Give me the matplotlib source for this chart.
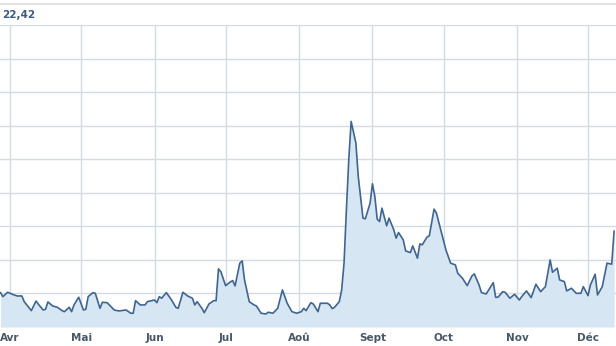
import matplotlib
matplotlib.use("Agg")
import matplotlib.pyplot as plt
import matplotlib.dates as mdates
import pandas as pd

# 데이터
dates = (
    ["2011-03-%02d" % d for d in [28, 29, 31]]
    + ["2011-04-%02d" % d for d in [2, 4, 6, 7, 10, 12, 13, 15, 16, 17, 19, 21, 23, 24, 26, 27, 28, 30]]
    + ["2011-05-%02d" % d for d in [2, 3, 4, 6, 7, 9, 10, 12, 15, 17, 20, 22, 23, 24, 26, 28, 29]]
    + ["2011-06-%02d" % d for d in [1, 2, 3, 4, 6, 8, 10, 11, 13, 15, 17, 18, 19, 21, 22, 24, 26, 27, 28, 29]]
    + ["2011-07-%02d" % d for d in [1, 3, 4, 5, 7, 8, 9, 11, 13, 14, 16, 18, 19, 21, 23, 25, 27, 29, 31]]
    + ["2011-08-%02d" % d for d in [2, 3, 4, 6, 7, 9, 10, 13, 14, 15, 16, 18, 19, 20, 21, 22, 23, 25, 26, 28, 29, 31]]
    + ["2011-09-%02d" % d for d in [1, 2, 3, 4, 5, 7, 8, 10, 11, 12, 14, 15, 17, 18, 20, 21, 22, 24, 25, 27, 28, 30]]
    + ["2011-10-%02d" % d for d in [2, 4, 6, 7, 9, 11, 13, 14, 16, 17, 19, 22, 23, 24, 26, 27, 29, 31]]
    + ["2011-11-%02d" % d for d in [2, 3, 5, 7, 9, 11, 13, 15, 16, 18, 19, 21, 22, 24, 26, 28, 29]]
    + ["2011-12-%02d" % d for d in [1, 2, 4, 5, 7, 9, 11, 12]]
)

values = [
    15.10, 14.62, 15.14,
    14.90, 14.70, 14.70, 14.02, 12.95, 14.10, 13.71, 13.03, 13.11, 13.99, 13.51, 13.35, 12.95, 12.83, 13.35, 12.83, 13.63, 14.55,
    13.03, 13.11, 14.62, 15.10, 15.02, 13.23, 13.95, 13.90, 13.03, 12.91, 13.03, 12.64, 12.64, 14.14, 13.63, 13.63, 14.02,
    14.22, 13.90, 14.62, 14.43, 15.10, 14.31, 13.35, 13.23, 15.14, 14.70, 14.43, 13.63, 14.02, 13.23, 12.71, 13.75, 14.14, 14.14, 17.93, 17.60,
    15.93, 16.37, 16.53, 15.90, 18.61, 18.88, 16.61, 14.02, 13.63, 13.51, 12.64, 12.55, 12.76, 12.64, 13.23, 15.42, 13.83, 12.83, 12.64,
    12.83, 13.23, 12.95, 13.90, 13.75, 12.83, 13.83, 13.83, 13.63, 13.19, 13.35, 14.02, 15.42, 18.61, 24.97, 30.94, 35.51, 32.93, 28.95, 23.98, 23.90, 25.77,
    28.07, 26.56, 23.86, 23.57, 25.17, 23.06, 23.98, 22.58, 21.59, 22.26, 21.39, 20.07, 19.87, 20.67, 19.20, 20.91, 20.79, 21.71, 21.87, 25.05, 24.58, 22.38,
    20.19, 18.61, 18.40, 17.41, 16.81, 15.93, 17.09, 17.33, 16.01, 15.10, 14.94, 16.29, 14.55, 14.55, 15.21, 15.14, 14.43, 14.90,
    14.22, 14.62, 15.30, 14.50, 16.10, 15.21, 15.81, 19.00, 17.53, 18.01, 16.61, 16.41, 15.30, 15.62, 15.02, 15.02, 15.81,
    14.74, 16.01, 17.29, 14.82, 15.81, 18.61, 18.49, 22.42,
]

month_labels = ["Avr", "Mai", "Jun", "Jul", "Aoû", "Sept", "Oct", "Nov", "Déc"]
month_starts = ["2011-04-01", "2011-05-01", "2011-06-01", "2011-07-01", "2011-08-01",
                "2011-09-01", "2011-10-01", "2011-11-01", "2011-12-01"]
last_label = "22,42"


def main():
    x = pd.to_datetime(dates)
    ticks = pd.to_datetime(month_starts)

    fig = plt.figure(figsize=(6.16, 3.46), dpi=100)
    ax = fig.add_axes([0, 19 / 346, 1, 302 / 346])

    ax.fill_between(x, values, 11, color="#d6e6f2", linewidth=0)
    ax.plot(x, values, color="#3f6590", linewidth=1.2)

    start = pd.Timestamp("2011-04-01")
    ax.set_xlim(mdates.date2num(start) - 4.22, mdates.date2num(start) + 255.8)
    ax.set_ylim(11, 47)
    ax.set_yticks(range(11, 48, 4))
    ax.set_xticks(ticks)
    ax.set_xticklabels(month_labels)
    ax.tick_params(axis="x", length=0, pad=4, labelsize=7.5, labelcolor="#4a5866")
    for lbl in ax.get_xticklabels():
        lbl.set_fontweight("bold")
    ax.tick_params(axis="y", length=0, labelleft=False)
    ax.grid(True, color="#d3dbe3", linewidth=1)
    ax.set_axisbelow(True)
    for s in ax.spines.values():
        s.set_visible(False)

    # 위쪽 선과 값 표시
    fig.add_artist(plt.Line2D([0, 1], [1 - 4 / 346, 1 - 4 / 346], color="#e3e3e3", linewidth=1.5))
    fig.text(2 / 616, 1 - 15 / 346, last_label, fontsize=7.5, fontweight="bold",
             color="#3a5a7e", va="center", ha="left")

    fig.savefig("out.png", dpi=100)


if __name__ == "__main__":
    main()
